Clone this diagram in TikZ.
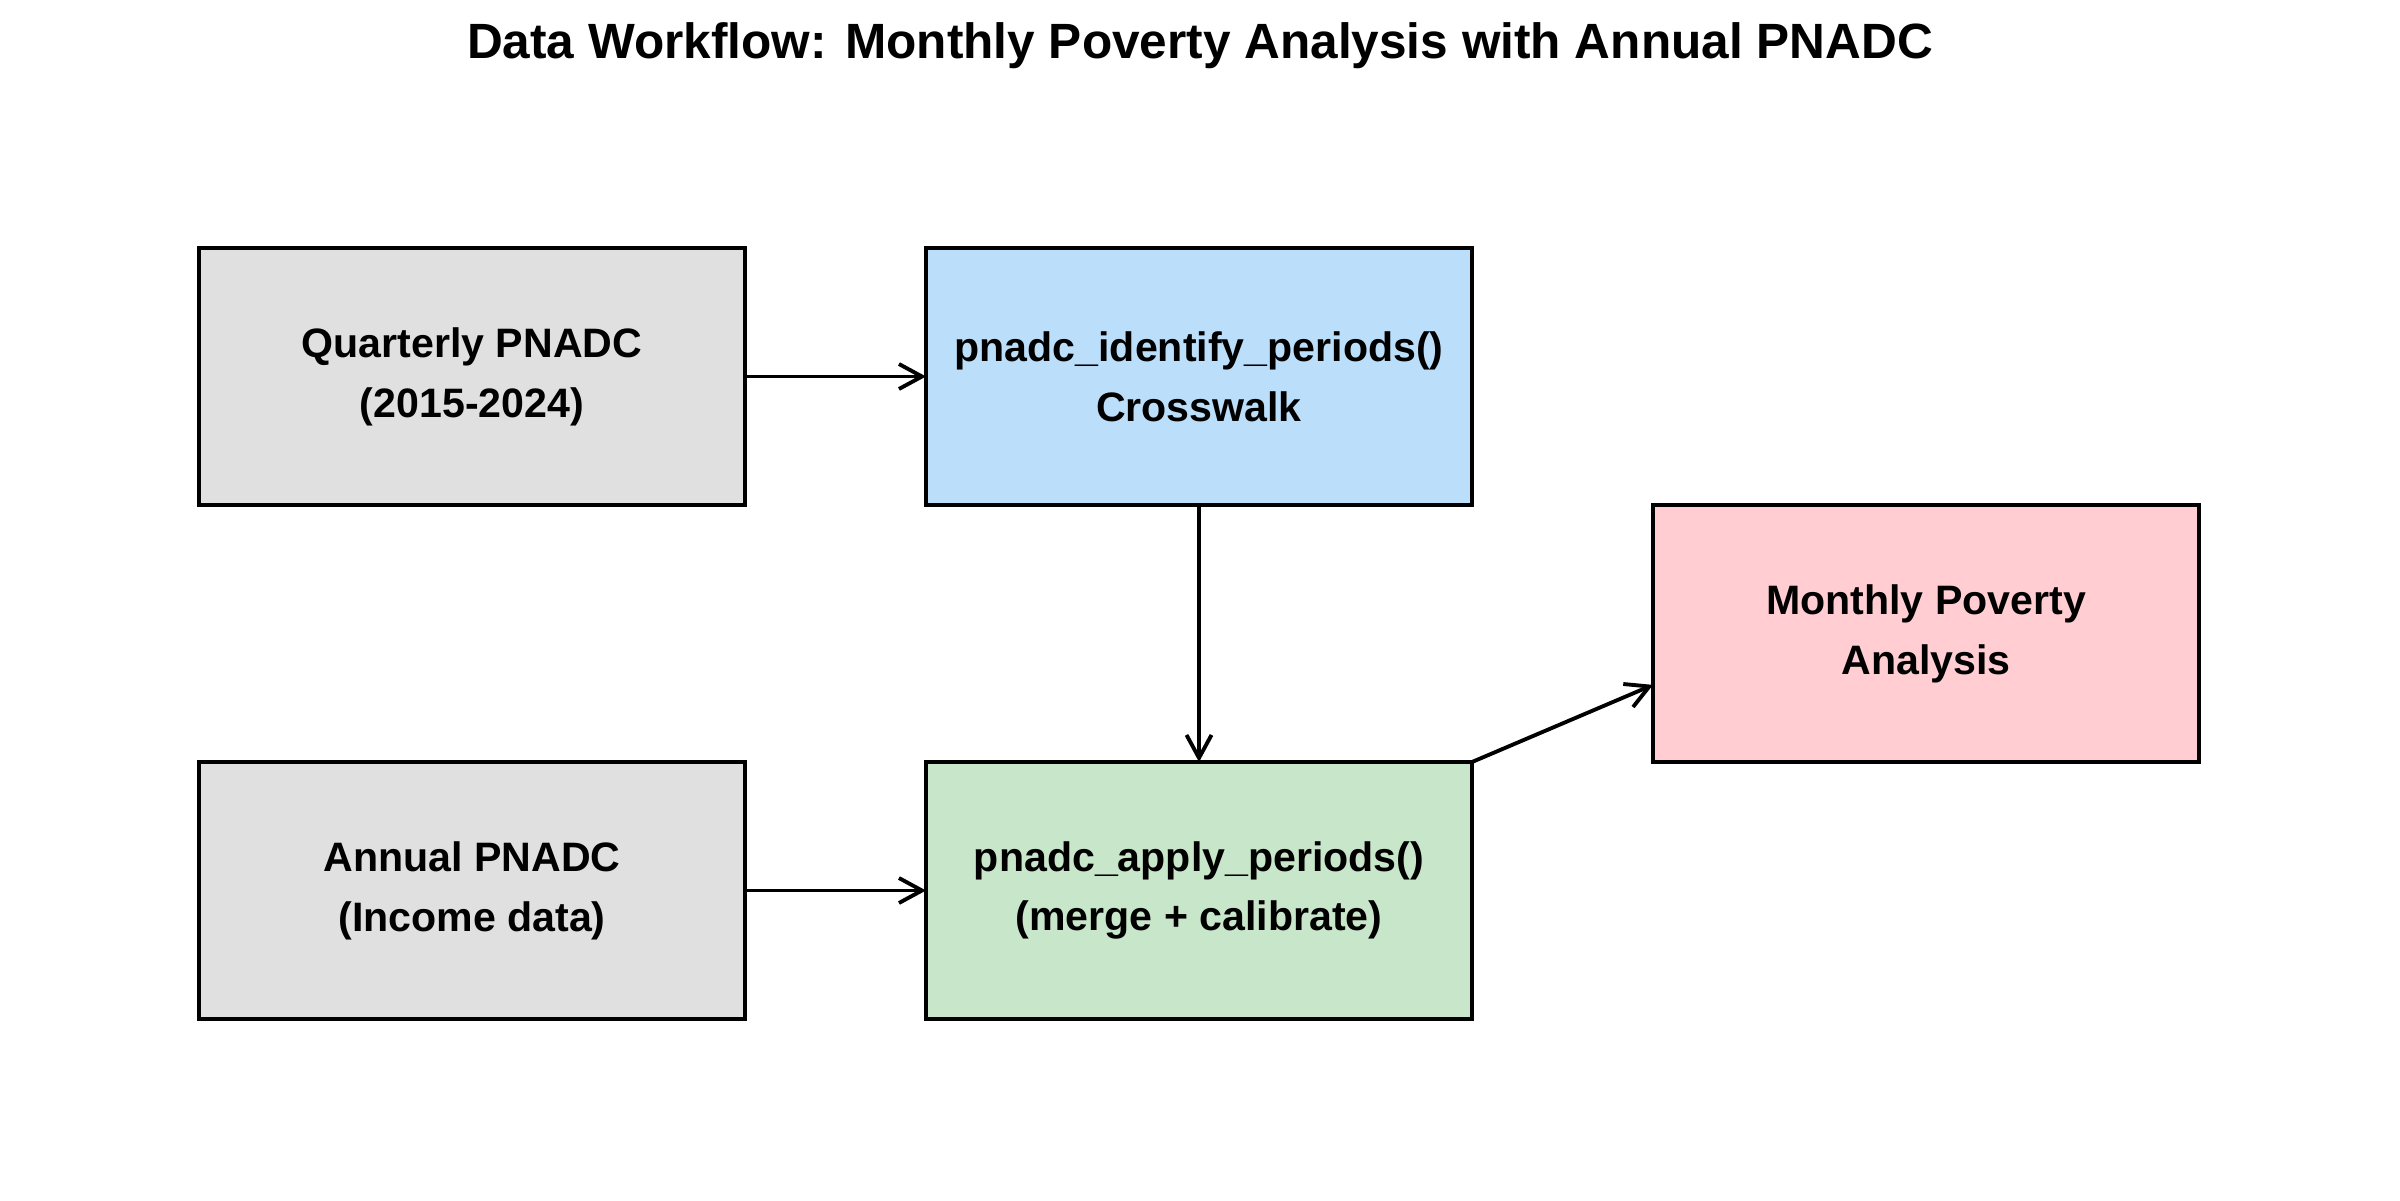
\documentclass[tikz,border=0pt]{standalone}
\usepackage{fontspec}
\setmainfont{Liberation Sans}
\usepackage{xcolor}
\usepackage{tikz}
\usetikzlibrary{shapes,arrows.meta,positioning,calc}

\definecolor{inputgray}{HTML}{E0E0E0}
\definecolor{stepblue}{HTML}{BBDEFB}
\definecolor{stepgreen}{HTML}{C8E6C9}
\definecolor{outpink}{HTML}{FFCDD2}

\begin{document}
\begin{tikzpicture}[node distance=2.57cm and 1.81cm,
    box/.style={draw, line width=1.1pt, minimum width=5.46cm, minimum height=2.57cm, outer sep=0pt,
      align=center, font=\fontsize{11.7}{17}\selectfont\bfseries, inner sep=0pt},
    flow/.style={line width=1.1pt, -{Straight Barb[length=2.3mm,width=2.5mm]}}]
    \useasboundingbox (0,0) rectangle (24,12);
    \node (title) at (12,11.545) {\fontsize{14.1}{17}\selectfont\bfseries
      Data Workflow: Monthly Poverty Analysis with Annual PNADC};
    \node[box, fill=inputgray] (quarterly) at (4.72,8.235) {Quarterly PNADC\\(2015-2024)};
    \node[box, fill=stepblue, right=of quarterly] (identify) {pnadc\_identify\_periods()\\Crosswalk};
    \node[box, fill=inputgray, below=of quarterly] (annual) {Annual PNADC\\(Income data)};
    \node[box, fill=stepgreen, below=of identify] (apply) {pnadc\_apply\_periods()\\(merge + calibrate)};
    \node[box, fill=outpink, anchor=north west] (monthly)
      at ($(identify.south east)+(1.81,0)$) {Monthly Poverty\\Analysis};
    \draw[flow] (quarterly) -- (identify);
    \draw[flow] (annual) -- (apply);
    \draw[flow] (identify) -- (apply);
    \draw[flow] (apply.north east) -- ($(monthly.south west)!0.3!(monthly.north west)$);
  \end{tikzpicture}
\end{document}
